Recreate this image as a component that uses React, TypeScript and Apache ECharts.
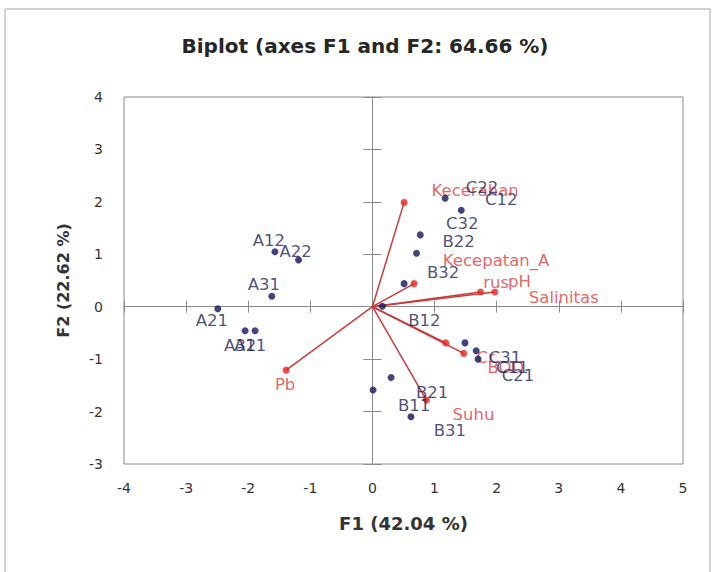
import React, { useEffect, useRef } from 'react';
import * as echarts from 'echarts';

// Axis ranges / ticks
const xMin = -4;
const xMax = 5;
const yMin = -3;
const yMax = 4;
const tickStep = 1;

// Observations (F1, F2)
const obsNames = ['A21', 'A12', 'A22', 'A31', 'A32', 'A11', 'C22', 'C12', 'C32', 'B22', 'B32', 'B12', 'C31', 'C11', 'C21', 'B21', 'B11', 'B31'];
const obsF1 = [-2.49, -1.57, -1.19, -1.62, -2.05, -1.89, 1.17, 1.43, 0.77, 0.71, 0.51, 0.16, 1.49, 1.67, 1.70, 0.30, 0.01, 0.62];
const obsF2 = [-0.04, 1.05, 0.89, 0.20, -0.46, -0.46, 2.07, 1.84, 1.37, 1.02, 0.44, 0.01, -0.69, -0.84, -1.00, -1.35, -1.59, -2.10];

// Variables (loadings, F1, F2)
const varNames = ['Kecerahan', 'Kecepatan_Arus', 'pH', 'Salinitas', 'Cr', 'BOD', 'Pb', 'Suhu'];
const varF1 = [0.51, 0.67, 1.74, 1.97, 1.18, 1.47, -1.39, 0.87];
const varF2 = [1.99, 0.44, 0.28, 0.28, -0.69, -0.89, -1.21, -1.78];

// Label placement (pixel offsets from the marker, styling only)
const obsLabelOffsets: [number, number][] = [
  [-6, 12], [-6, -11], [-3, -9], [-8, -12], [-5, 15], [-5, 15],
  [37, -11], [40, -11], [42, -11], [42, -12], [39, -11], [42, 14],
  [40, 15], [36, 17], [40, 16], [41, 15], [41, 15], [39, 14],
];
const varLabelOffsets: [number, number][] = [
  [71, -12], [82, -12], [39, -11], [69, 5], [40, 15], [42, 14], [-1, 14], [47, 14],
];

const FONT = 'DejaVu Sans';
const GRAY = '#8a8a8a';
const NAVY = '#14145c';
const NAVY_TEXT = '#1e2456';
const RED = '#ee2222';
const RED_TEXT = '#e03c3c';
const RED_LINE = '#c83c3c';

const GRID = { left: 124, top: 97, width: 559, height: 367 };

export default function App() {
  const ref = useRef<HTMLDivElement>(null);

  useEffect(() => {
    if (!ref.current) return;
    const chart = echarts.init(ref.current, undefined, { renderer: 'svg' });

    const zeroX = (position: 'bottom' | 'top') => ({
      gridIndex: 1,
      type: 'value',
      min: xMin,
      max: xMax,
      interval: tickStep,
      position,
      axisLine: { show: true, onZero: true, lineStyle: { color: GRAY, width: 1 } },
      axisTick: { show: true, length: 6, lineStyle: { color: GRAY, width: 1 } },
      axisLabel: { show: false },
      splitLine: { show: false },
    });
    const zeroY = (position: 'left' | 'right') => ({
      gridIndex: 1,
      type: 'value',
      min: yMin,
      max: yMax,
      interval: tickStep,
      position,
      axisLine: { show: true, onZero: true, lineStyle: { color: GRAY, width: 1 } },
      axisTick: { show: true, length: 9, lineStyle: { color: GRAY, width: 1 } },
      axisLabel: { show: false },
      splitLine: { show: false },
    });

    const option: any = {
      animation: false,
      backgroundColor: '#ffffff',
      graphic: [
        {
          type: 'rect',
          silent: true,
          shape: { x: 5, y: 9, width: 705, height: 580 },
          style: { fill: 'none', stroke: '#a6a6a6', lineWidth: 1 },
        },
        {
          type: 'text',
          silent: true,
          x: 365,
          y: 46,
          style: {
            text: 'Biplot (axes F1 and F2: 64.66 %)',
            fontFamily: FONT,
            fontSize: 20,
            fontWeight: 'bold',
            fill: '#262626',
            align: 'center',
            verticalAlign: 'middle',
          },
        },
      ],
      grid: [
        { ...GRID, show: true, borderColor: GRAY, borderWidth: 1, backgroundColor: 'transparent' },
        { ...GRID },
      ],
      xAxis: [
        {
          gridIndex: 0,
          type: 'value',
          min: xMin,
          max: xMax,
          interval: tickStep,
          position: 'bottom',
          axisLine: { show: false, onZero: false },
          axisTick: { show: false },
          splitLine: { show: false },
          axisLabel: { margin: 17, fontSize: 14, color: '#333', fontFamily: FONT },
          name: 'F1 (42.04 %)',
          nameLocation: 'middle',
          nameGap: 50,
          nameTextStyle: { fontFamily: FONT, fontSize: 18, fontWeight: 'bold', color: '#333' },
        },
        zeroX('bottom'),
        zeroX('top'),
      ],
      yAxis: [
        {
          gridIndex: 0,
          type: 'value',
          min: yMin,
          max: yMax,
          interval: tickStep,
          position: 'left',
          axisLine: { show: false, onZero: false },
          axisTick: { show: false },
          splitLine: { show: false },
          axisLabel: { margin: 21, fontSize: 14, color: '#333', fontFamily: FONT },
          name: 'F2 (22.62 %)',
          nameLocation: 'middle',
          nameRotate: 90,
          nameGap: 53,
          nameTextStyle: { fontFamily: FONT, fontSize: 16, fontWeight: 'bold', color: '#333' },
        },
        zeroY('left'),
        zeroY('right'),
      ],
      series: [
        {
          type: 'lines',
          coordinateSystem: 'cartesian2d',
          xAxisIndex: 0,
          yAxisIndex: 0,
          silent: true,
          lineStyle: { color: RED_LINE, width: 1.5, opacity: 1 },
          data: varF1.map((x, i) => ({ coords: [[0, 0], [x, varF2[i]]] })),
          z: 2,
        },
        {
          type: 'scatter',
          xAxisIndex: 0,
          yAxisIndex: 0,
          symbol: 'circle',
          symbolSize: 7,
          itemStyle: { color: RED },
          z: 3,
          label: {
            show: true,
            position: 'inside',
            formatter: '{b}',
            color: RED_TEXT,
            fontFamily: FONT,
            fontSize: 16.5,
          },
          data: varNames.map((n, i) => ({
            name: n,
            value: [varF1[i], varF2[i]],
            label:
              n === 'Kecepatan_Arus'
                ? { offset: varLabelOffsets[i], width: 112, overflow: 'breakAll', lineHeight: 22, align: 'center' }
                : { offset: varLabelOffsets[i] },
          })),
        },
        {
          type: 'scatter',
          xAxisIndex: 0,
          yAxisIndex: 0,
          symbol: 'circle',
          symbolSize: 7,
          itemStyle: { color: NAVY },
          z: 4,
          label: {
            show: true,
            position: 'inside',
            formatter: '{b}',
            color: NAVY_TEXT,
            fontFamily: FONT,
            fontSize: 16.5,
          },
          data: obsNames.map((n, i) => ({
            name: n,
            value: [obsF1[i], obsF2[i]],
            label: { offset: obsLabelOffsets[i] },
          })),
        },
      ],
    };

    chart.setOption(option);
    return () => chart.dispose();
  }, []);

  return (
    <div
      ref={ref}
      style={{ position: 'fixed', left: 0, top: 0, width: 716, height: 572, background: '#fff' }}
    />
  );
}
